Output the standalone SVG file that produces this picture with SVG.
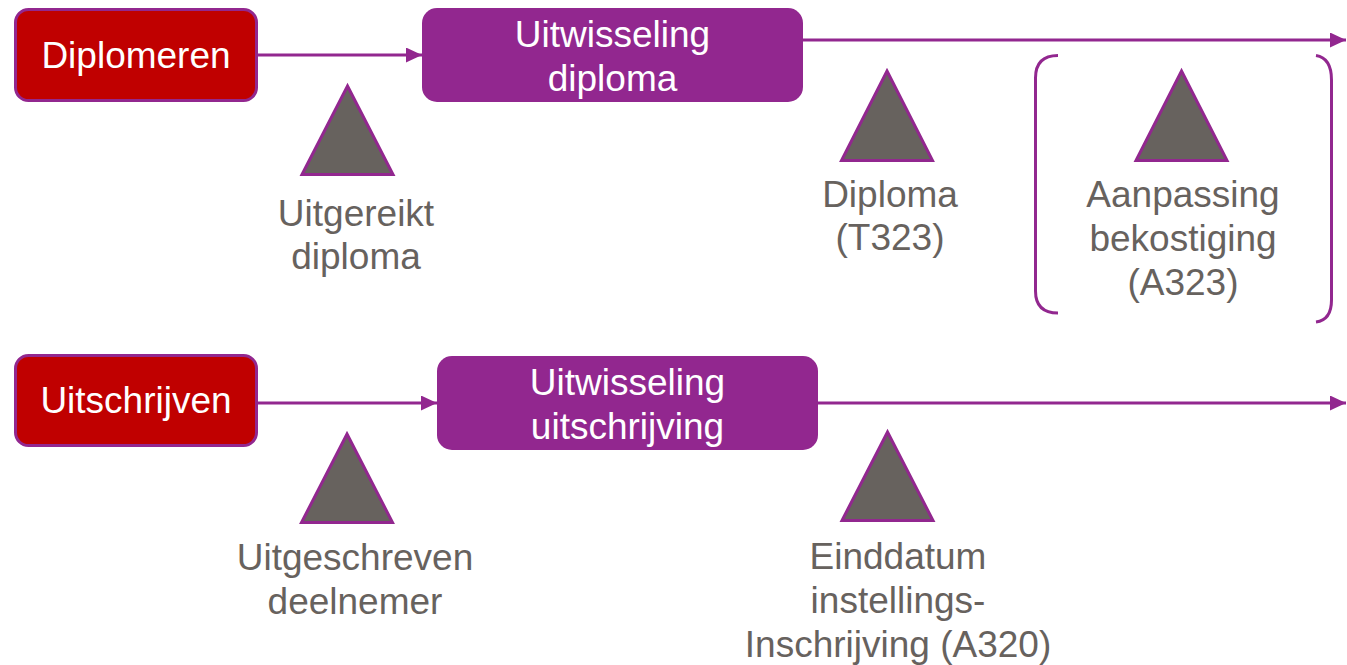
<svg xmlns="http://www.w3.org/2000/svg" width="1347" height="665" viewBox="0 0 1347 665">
  <style>
    .start { fill: #C00000; stroke: #92278F; stroke-width: 3; }
    .proc { fill: #92278F; }
    .tri { fill: #67625E; stroke: #92278F; stroke-width: 3; stroke-linejoin: miter; }
    .wt { font-family: "Liberation Sans", Arial, sans-serif; font-size: 37px; fill: #FFFFFF; text-anchor: middle; }
    .gt { font-family: "Liberation Sans", Arial, sans-serif; font-size: 37px; fill: #67625E; text-anchor: middle; }
    .flow { stroke: #92278F; stroke-width: 3; fill: none; }
    .bracket { stroke: #92278F; stroke-width: 3; fill: none; }
  </style>
  <defs>
    <marker id="arrow" markerUnits="userSpaceOnUse" markerWidth="16" markerHeight="15" refX="16" refY="7.5" orient="auto">
      <path d="M0,0 L16,7.5 L0,15 Z" fill="#92278F"/>
    </marker>
  </defs>

  <rect width="1347" height="665" fill="#FFFFFF"/>

  <!-- connectors -->
  <g id="connectors">
    <line class="flow" x1="258" y1="55" x2="422" y2="55" marker-end="url(#arrow)"/>
    <line class="flow" x1="803" y1="40" x2="1346" y2="40" marker-end="url(#arrow)"/>
    <line class="flow" x1="258" y1="403" x2="437" y2="403" marker-end="url(#arrow)"/>
    <line class="flow" x1="818" y1="403" x2="1346" y2="403" marker-end="url(#arrow)"/>
  </g>

  <!-- row 1: diploma -->
  <g id="diplomeren">
    <rect class="start" x="15.5" y="9.5" width="241" height="91" rx="13"/>
    <text class="wt" x="136" y="68">Diplomeren</text>
  </g>
  <g id="uitwisseling-diploma">
    <rect class="proc" x="422" y="8" width="381" height="94" rx="15"/>
    <text class="wt" x="612.5" y="47">Uitwisseling</text>
    <text class="wt" x="612.5" y="91">diploma</text>
  </g>
  <g id="uitgereikt-diploma">
    <path class="tri" d="M347.5,86 L393,174.5 L302,174.5 Z"/>
    <text class="gt" x="356" y="226">Uitgereikt</text>
    <text class="gt" x="356" y="269">diploma</text>
  </g>
  <g id="diploma-t323">
    <path class="tri" d="M887,71 L932.5,160.5 L841.5,160.5 Z"/>
    <text class="gt" x="890" y="207">Diploma</text>
    <text class="gt" x="890" y="250">(T323)</text>
  </g>
  <g id="aanpassing-bekostiging">
    <path class="bracket" d="M1058,55.5 Q1035.5,55.5 1035.5,78 L1035.5,291 Q1035.5,313 1058,313"/>
    <path class="bracket" d="M1316,55.5 Q1331.5,58 1331.5,80 L1331.5,300 Q1331.5,320 1316,322"/>
    <path class="tri" d="M1181.5,71 L1227,160.5 L1136,160.5 Z"/>
    <text class="gt" x="1183" y="207">Aanpassing</text>
    <text class="gt" x="1183" y="251">bekostiging</text>
    <text class="gt" x="1183" y="295">(A323)</text>
  </g>

  <!-- row 2: uitschrijving -->
  <g id="uitschrijven">
    <rect class="start" x="15.5" y="355.5" width="241" height="90" rx="13"/>
    <text class="wt" x="136" y="413">Uitschrijven</text>
  </g>
  <g id="uitwisseling-uitschrijving">
    <rect class="proc" x="437" y="356" width="381" height="94" rx="15"/>
    <text class="wt" x="627.5" y="395">Uitwisseling</text>
    <text class="wt" x="627.5" y="439">uitschrijving</text>
  </g>
  <g id="uitgeschreven-deelnemer">
    <path class="tri" d="M347,434 L392.5,522.5 L301.5,522.5 Z"/>
    <text class="gt" x="355" y="570">Uitgeschreven</text>
    <text class="gt" x="355" y="614">deelnemer</text>
  </g>
  <g id="einddatum-inschrijving">
    <path class="tri" d="M887.5,432 L933,520.5 L842,520.5 Z"/>
    <text class="gt" x="898" y="569">Einddatum</text>
    <text class="gt" x="898" y="613">instellings-</text>
    <text class="gt" x="898" y="657">Inschrijving (A320)</text>
  </g>
</svg>
